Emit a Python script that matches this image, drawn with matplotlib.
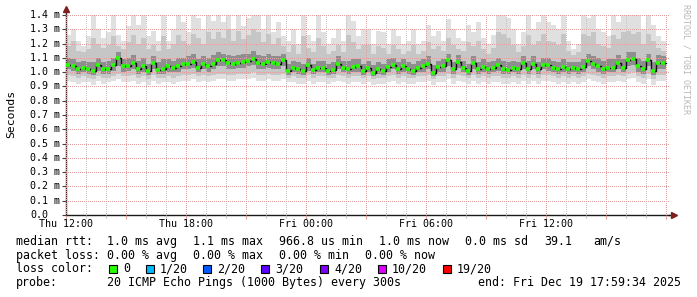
import matplotlib as mpl
import matplotlib.pyplot as plt
import numpy as np
from matplotlib.transforms import blended_transform_factory

mpl.rcParams.update(
    {
        "font.family": "DejaVu Sans Mono",
        "font.size": 8.4,
        "axes.linewidth": 1.0,
    }
)

W, H = 697, 297
STEP_H = 0.25  # one sample block = 15 min

# median rtt in ms, one value per 15 min starting Thu 12:00
median_ms = [
    1.053, 1.04, 1.02, 1.03, 1.02, 1.01, 1.05, 1.02, 1.02, 1.05,
    1.10, 1.04, 1.045, 1.065, 1.02, 1.04, 1.005, 1.065, 1.015, 1.02,
    1.04, 1.03, 1.04, 1.055, 1.06, 1.07, 1.03, 1.06, 1.04, 1.06,
    1.088, 1.088, 1.065, 1.06, 1.065, 1.07, 1.077, 1.093, 1.065, 1.06,
    1.07, 1.065, 1.06, 1.088, 1.007, 1.03, 1.023, 1.007, 1.053, 1.014,
    1.03, 1.03, 1.007, 1.014, 1.06, 1.03, 1.02, 1.037, 1.04, 1.007,
    1.03, 0.995, 1.02, 1.007, 1.037, 1.053, 1.023, 1.04, 1.02, 1.007,
    1.03, 1.04, 1.06, 0.995, 1.037, 1.04, 1.088, 1.02, 1.07, 1.03,
    1.007, 1.065, 1.02, 1.037, 1.02, 1.03, 1.047, 1.02, 1.014, 1.03,
    1.02, 1.065, 1.023, 1.06, 1.02, 1.053, 1.047, 1.03, 1.02, 1.037,
    1.02, 1.028, 1.023, 1.037, 1.077, 1.06, 1.04, 1.02, 1.03, 1.03,
    1.065, 1.03, 1.088, 1.093, 1.04, 1.023, 1.088, 1.007, 1.065, 1.065,
]

smoke_max = [
    1.26, 1.30, 1.22, 1.18, 1.25, 1.42, 1.30, 1.24, 1.28, 1.42,
    1.26, 1.22, 1.32, 1.42, 1.33, 1.42, 1.25, 1.29, 1.22, 1.42,
    1.22, 1.30, 1.42, 1.35, 1.28, 1.42, 1.38, 1.30, 1.42, 1.36,
    1.42, 1.35, 1.42, 1.30, 1.42, 1.32, 1.38, 1.42, 1.42, 1.30,
    1.42, 1.28, 1.35, 1.25, 1.22, 1.30, 1.20, 1.42, 1.26, 1.22,
    1.42, 1.28, 1.20, 1.24, 1.30, 1.22, 1.42, 1.36, 1.25, 1.30,
    1.30, 1.20, 1.29, 1.28, 1.20, 1.30, 1.25, 1.20, 1.22, 1.30,
    1.20, 1.22, 1.33, 1.25, 1.29, 1.22, 1.37, 1.30, 1.24, 1.22,
    1.33, 1.28, 1.35, 1.24, 1.20, 1.26, 1.42, 1.42, 1.38, 1.30,
    1.20, 1.28, 1.42, 1.30, 1.35, 1.42, 1.35, 1.33, 1.30, 1.42,
    1.22, 1.16, 1.20, 1.42, 1.38, 1.42, 1.30, 1.28, 1.25, 1.42,
    1.35, 1.42, 1.42, 1.40, 1.42, 1.30, 1.42, 1.33, 1.25, 1.22,
]

smoke_p90 = [
    1.18, 1.22, 1.15, 1.14, 1.16, 1.24, 1.20, 1.17, 1.19, 1.25,
    1.18, 1.16, 1.21, 1.26, 1.20, 1.24, 1.16, 1.19, 1.15, 1.25,
    1.16, 1.20, 1.26, 1.22, 1.19, 1.27, 1.24, 1.20, 1.28, 1.23,
    1.28, 1.24, 1.30, 1.22, 1.29, 1.23, 1.26, 1.30, 1.28, 1.21,
    1.27, 1.20, 1.24, 1.18, 1.14, 1.19, 1.13, 1.25, 1.17, 1.14,
    1.24, 1.18, 1.13, 1.15, 1.19, 1.14, 1.26, 1.21, 1.16, 1.19,
    1.19, 1.13, 1.18, 1.17, 1.13, 1.19, 1.16, 1.13, 1.15, 1.19,
    1.13, 1.15, 1.21, 1.16, 1.18, 1.15, 1.24, 1.19, 1.16, 1.15,
    1.21, 1.18, 1.22, 1.16, 1.13, 1.17, 1.28, 1.27, 1.24, 1.19,
    1.14, 1.18, 1.26, 1.19, 1.22, 1.27, 1.22, 1.21, 1.19, 1.27,
    1.15, 1.12, 1.14, 1.27, 1.25, 1.28, 1.20, 1.18, 1.17, 1.26,
    1.23, 1.28, 1.29, 1.27, 1.28, 1.20, 1.27, 1.22, 1.17, 1.15,
]

smoke_p75 = [
    1.10, 1.09, 1.07, 1.08, 1.07, 1.07, 1.10, 1.07, 1.08, 1.10,
    1.14, 1.09, 1.10, 1.12, 1.08, 1.10, 1.06, 1.11, 1.07, 1.09,
    1.09, 1.08, 1.10, 1.10, 1.11, 1.13, 1.09, 1.11, 1.10, 1.12,
    1.14, 1.13, 1.12, 1.11, 1.12, 1.13, 1.13, 1.15, 1.12, 1.11,
    1.13, 1.11, 1.11, 1.13, 1.06, 1.08, 1.07, 1.06, 1.10, 1.06,
    1.08, 1.08, 1.06, 1.07, 1.11, 1.08, 1.08, 1.09, 1.09, 1.06,
    1.08, 1.05, 1.07, 1.06, 1.09, 1.10, 1.07, 1.09, 1.07, 1.06,
    1.08, 1.09, 1.11, 1.05, 1.08, 1.09, 1.13, 1.07, 1.12, 1.08,
    1.06, 1.11, 1.07, 1.09, 1.07, 1.08, 1.10, 1.08, 1.07, 1.08,
    1.07, 1.11, 1.08, 1.11, 1.07, 1.10, 1.10, 1.08, 1.07, 1.09,
    1.07, 1.07, 1.07, 1.09, 1.13, 1.11, 1.10, 1.08, 1.09, 1.09,
    1.12, 1.09, 1.14, 1.14, 1.10, 1.08, 1.13, 1.07, 1.12, 1.11,
]

smoke_p25 = [
    1.02, 1.01, 0.99, 1.00, 0.99, 0.98, 1.01, 0.99, 0.99, 1.01,
    1.04, 1.00, 1.01, 1.02, 0.99, 1.00, 0.98, 1.02, 0.99, 0.99,
    1.00, 1.00, 1.00, 1.02, 1.02, 1.03, 1.00, 1.02, 1.00, 1.02,
    1.04, 1.04, 1.02, 1.02, 1.03, 1.03, 1.04, 1.05, 1.02, 1.02,
    1.03, 1.02, 1.02, 1.04, 0.98, 1.00, 0.99, 0.98, 1.01, 0.99,
    1.00, 1.00, 0.98, 0.99, 1.02, 1.00, 0.99, 1.00, 1.00, 0.98,
    1.00, 0.97, 0.99, 0.98, 1.00, 1.02, 0.99, 1.00, 0.99, 0.98,
    1.00, 1.00, 1.02, 0.97, 1.00, 1.00, 1.04, 0.99, 1.03, 1.00,
    0.98, 1.02, 0.99, 1.00, 0.99, 1.00, 1.01, 0.99, 0.99, 1.00,
    0.99, 1.02, 0.99, 1.02, 0.99, 1.02, 1.01, 1.00, 0.99, 1.00,
    0.99, 1.00, 0.99, 1.00, 1.04, 1.02, 1.00, 0.99, 1.00, 1.00,
    1.02, 1.00, 1.04, 1.05, 1.00, 0.99, 1.04, 0.98, 1.02, 1.02,
]

smoke_p10 = [
    0.98, 0.97, 0.96, 0.97, 0.96, 0.95, 0.97, 0.96, 0.96, 0.97,
    0.99, 0.97, 0.97, 0.98, 0.96, 0.97, 0.95, 0.98, 0.96, 0.96,
    0.97, 0.96, 0.97, 0.98, 0.98, 0.99, 0.97, 0.98, 0.97, 0.98,
    0.99, 0.99, 0.98, 0.98, 0.99, 0.99, 0.99, 1.00, 0.98, 0.98,
    0.99, 0.98, 0.98, 0.99, 0.96, 0.97, 0.96, 0.96, 0.98, 0.96,
    0.97, 0.97, 0.96, 0.96, 0.98, 0.97, 0.96, 0.97, 0.97, 0.96,
    0.97, 0.95, 0.96, 0.96, 0.97, 0.98, 0.96, 0.97, 0.96, 0.96,
    0.97, 0.97, 0.98, 0.95, 0.97, 0.97, 0.99, 0.96, 0.98, 0.97,
    0.96, 0.98, 0.96, 0.97, 0.96, 0.97, 0.97, 0.96, 0.96, 0.97,
    0.96, 0.98, 0.96, 0.98, 0.96, 0.98, 0.98, 0.97, 0.96, 0.97,
    0.96, 0.97, 0.96, 0.97, 0.99, 0.98, 0.97, 0.96, 0.97, 0.97,
    0.98, 0.97, 0.99, 1.00, 0.97, 0.96, 0.99, 0.95, 0.98, 0.98,
]

smoke_min = [
    0.94, 0.93, 0.92, 0.93, 0.93, 0.91, 0.94, 0.92, 0.93, 0.94,
    0.95, 0.93, 0.93, 0.94, 0.92, 0.93, 0.91, 0.94, 0.92, 0.93,
    0.93, 0.92, 0.93, 0.94, 0.94, 0.95, 0.93, 0.94, 0.93, 0.94,
    0.95, 0.95, 0.94, 0.94, 0.95, 0.95, 0.95, 0.96, 0.94, 0.94,
    0.95, 0.94, 0.94, 0.95, 0.93, 0.93, 0.92, 0.92, 0.94, 0.92,
    0.93, 0.93, 0.92, 0.93, 0.94, 0.93, 0.92, 0.93, 0.93, 0.92,
    0.93, 0.91, 0.92, 0.92, 0.93, 0.94, 0.92, 0.93, 0.92, 0.92,
    0.93, 0.93, 0.94, 0.91, 0.93, 0.93, 0.95, 0.92, 0.94, 0.93,
    0.92, 0.94, 0.92, 0.93, 0.92, 0.93, 0.93, 0.92, 0.92, 0.93,
    0.92, 0.94, 0.92, 0.94, 0.92, 0.94, 0.94, 0.93, 0.92, 0.93,
    0.92, 0.93, 0.92, 0.93, 0.95, 0.94, 0.93, 0.92, 0.93, 0.93,
    0.94, 0.93, 0.95, 0.96, 0.93, 0.92, 0.95, 0.91, 0.94, 0.94,
]

x_tick_hours = [0, 6, 12, 18, 24]
x_tick_labels = ["Thu 12:00", "Thu 18:00", "Fri 00:00", "Fri 06:00", "Fri 12:00"]
y_ticks = [0.0, 0.1, 0.2, 0.3, 0.4, 0.5, 0.6, 0.7, 0.8, 0.9, 1.0, 1.1, 1.2, 1.3, 1.4]

rtt_row = [
    (16, "median rtt:"), (107, "1.0 ms avg"), (193, "1.1 ms max"),
    (279, "966.8 us min"), (379, "1.0 ms now"), (465, "0.0 ms sd"),
    (544, "39.1"), (593, "am/s"),
]
loss_row = [
    (16, "packet loss:"), (107, "0.00 % avg"), (193, "0.00 % max"),
    (279, "0.00 % min"), (365, "0.00 % now"),
]
loss_labels = ["0", "1/20", "2/20", "3/20", "4/20", "10/20", "19/20"]
loss_colors = ["#26ff00", "#00b8ff", "#0059ff", "#5e00ff", "#7e00ff", "#dd00ff", "#ff0000"]
loss_box_x = [109, 146, 203, 261, 320, 378, 443]
probe_row = [
    (16, "probe:"), (107, "20 ICMP Echo Pings (1000 Bytes) every 300s"),
    (478, "end: Fri Dec 19 17:59:34 2025"),
]


def fx(x):
    return x / W


def fy(y):
    return 1.0 - y / H


def _ext(vals):
    v = np.asarray(vals, dtype=float)
    return np.append(v, v[-1])


fig = plt.figure(figsize=(W / 100, H / 100), dpi=100)
fig.patch.set_facecolor("white")
ax = fig.add_axes([fx(66), fy(215), fx(669) - fx(66), fy(15) - fy(215)])

t = np.arange(len(median_ms)) * STEP_H
t_edges = np.append(t, t[-1] + STEP_H)

# smoke, outer to inner
ax.fill_between(t_edges, _ext(smoke_min), _ext(smoke_max), step="post", color="#e0e0e0", lw=0, zorder=1)
ax.fill_between(t_edges, _ext(smoke_p10), _ext(smoke_p90), step="post", color="#c6c6c6", lw=0, zorder=1.1)
ax.fill_between(t_edges, _ext(smoke_p25), _ext(smoke_p75), step="post", color="#8e8e8e", lw=0, zorder=1.2)

# median: black connectors + loss-coloured dashes
ax.step(t_edges, _ext(median_ms), where="post", color="#101010", lw=1.0, zorder=3)
ax.hlines(median_ms, t, t + STEP_H * 0.8, colors=loss_colors[0], lw=2.6, zorder=4)

ax.set_xlim(0, 30.15)
ax.set_ylim(0, 1.4)

grid_red = "#e0a0a0"
grid_grey = "#c4c4c4"
dots = (0, (1, 1.5))
ax.set_yticks(y_ticks)
ax.set_yticklabels([])
ax.set_xticks(np.arange(0, 31, 3))
ax.set_xticks(np.arange(0, 31, 1), minor=True)
ax.set_xticklabels([])
ax.set_axisbelow(False)
ax.grid(axis="y", which="major", color=grid_red, ls=dots, lw=0.72, antialiased=False)
ax.grid(axis="x", which="major", color=grid_red, ls=dots, lw=0.72, antialiased=False)
ax.grid(axis="x", which="minor", color=grid_grey, ls=dots, lw=0.72, antialiased=False)
ax.tick_params(axis="y", length=3, width=0.8, color="#404040")
ax.tick_params(axis="x", which="major", length=3, width=0.8, color=grid_red)
ax.tick_params(axis="x", which="minor", length=2, width=0.8, color=grid_grey)

for s in ("top", "right"):
    ax.spines[s].set_visible(False)
ax.spines["left"].set_color("#3a2e2e")
ax.spines["bottom"].set_color("#1a1a1a")

# rrdtool style arrows
ax.plot([0, 0], [1.0, 1.025], transform=ax.transAxes, color="#3a2e2e", lw=1.0, clip_on=False)
ax.plot([0], [1.03], marker="^", ms=5, color="#7f1f1f", transform=ax.transAxes, clip_on=False)
ax.plot([1.0, 1.006], [0, 0], transform=ax.transAxes, color="#1a1a1a", lw=1.0, clip_on=False)
ax.plot([1.008], [0], marker=">", ms=5, color="#7f1f1f", transform=ax.transAxes, clip_on=False)

# tick labels
ytrans = blended_transform_factory(fig.transFigure, ax.transData)
for v in y_ticks:
    lab = "0.0" if v == 0 else f"{v:.1f} m"
    ax.text(fx(30), v, lab, transform=ytrans, ha="left", va="center", fontsize=7.2, clip_on=False)
xtrans = blended_transform_factory(ax.transData, fig.transFigure)
for h, lab in zip(x_tick_hours, x_tick_labels):
    ax.text(h, fy(224), lab, transform=xtrans, ha="center", va="center", fontsize=7.2, clip_on=False)

fig.text(fx(11), fy(114), "Seconds", rotation=90, ha="center", va="center", fontsize=8.2)
fig.text(fx(686), fy(4), "RRDTOOL / TOBI OETIKER", rotation=270, ha="center", va="top",
         fontsize=6.0, color="#b8b8b8")

# legend block
for x, s in rtt_row:
    fig.text(fx(x), fy(241.5), s, ha="left", va="center")
for x, s in loss_row:
    fig.text(fx(x), fy(255.5), s, ha="left", va="center")
fig.text(fx(16), fy(269), "loss color:", ha="left", va="center")
for bx, lab, col in zip(loss_box_x, loss_labels, loss_colors):
    fig.patches.append(
        mpl.patches.Rectangle((fx(bx), fy(273)), 8 / W, 8 / H, transform=fig.transFigure,
                              facecolor=col, edgecolor="black", lw=0.8)
    )
    fig.text(fx(bx + 14), fy(269), lab, ha="left", va="center")
for x, s in probe_row:
    fig.text(fx(x), fy(282.5), s, ha="left", va="center")

fig.savefig("out.png", dpi=100)
